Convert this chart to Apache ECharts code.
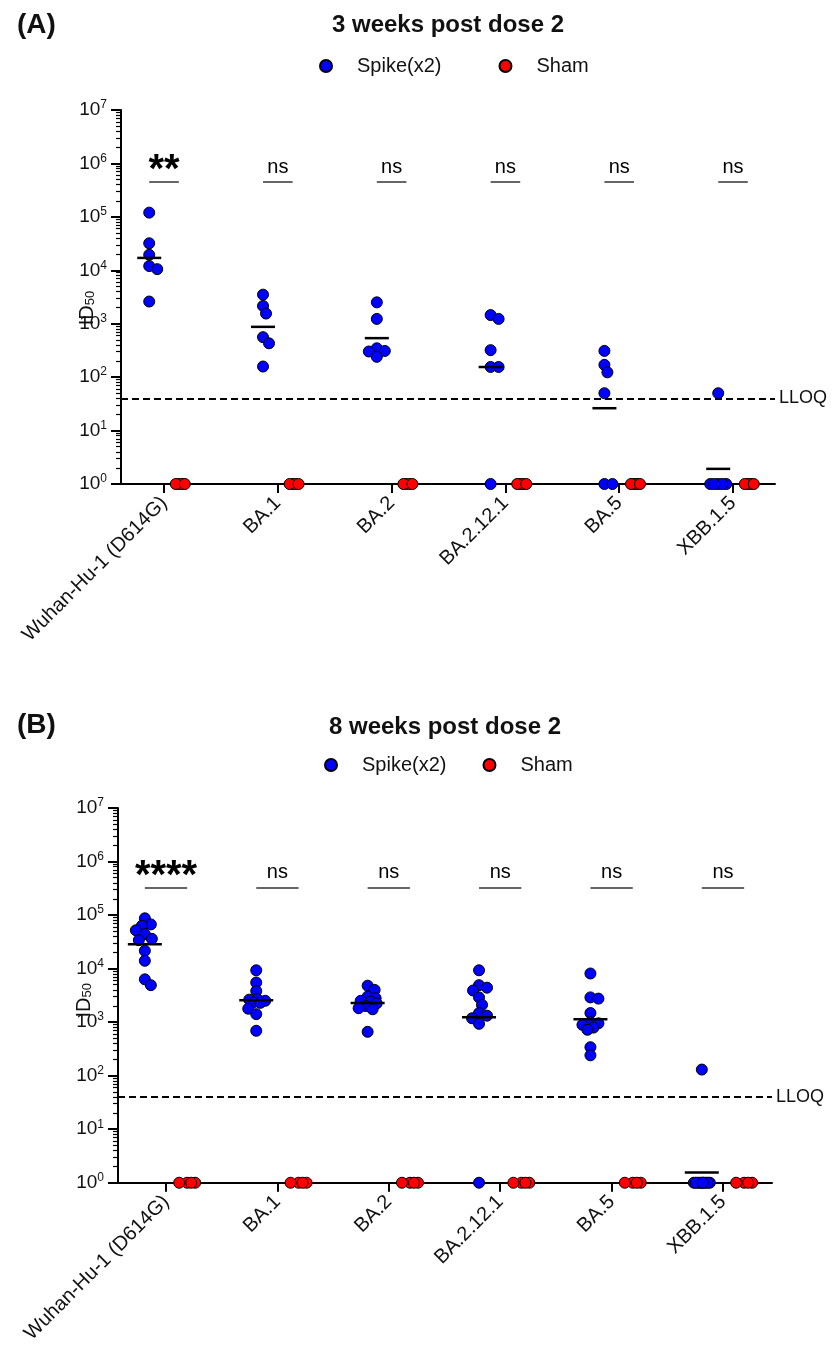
<!DOCTYPE html>
<html lang="en">
<head>
<meta charset="UTF-8">
<title>ID50 by variant</title>
<style>
  html, body { margin: 0; background: #fff; }
  #chart { width: 835px; height: 1346px; }
</style>
</head>
<body>
<div id="chart"></div>
<script src="https://cdn.jsdelivr.net/npm/echarts@6/dist/echarts.min.js"></script>
<script>
// ---- data ----
const categories = ['Wuhan-Hu-1 (D614G)', 'BA.1', 'BA.2', 'BA.2.12.1', 'BA.5', 'XBB.1.5'];
const sigA = ['**', 'ns', 'ns', 'ns', 'ns', 'ns'];
const sigB = ['****', 'ns', 'ns', 'ns', 'ns', 'ns'];
const lloq = 40;

// 3 weeks post dose 2
const spikeA = [
  [120000, 32000, 19500, 12000, 10500, 2600],
  [3500, 2150, 1550, 560, 430, 158],
  [2510, 1230, 347, 309, 302, 240],
  [1450, 1230, 320, 155, 155, 1],
  [310, 170, 123, 50, 1, 1],
  [50, 1, 1, 1, 1, 1]
];
const shamA = [
  [1, 1, 1, 1], [1, 1, 1, 1], [1, 1, 1, 1],
  [1, 1, 1, 1], [1, 1, 1, 1], [1, 1, 1, 1]
];

// 8 weeks post dose 2
const spikeB = [
  [87000, 67000, 63000, 52000, 44000, 36000, 34000, 21500, 14000, 6300, 4900],
  [9300, 5500, 3800, 2700, 2630, 2510, 2340, 2290, 1780, 1410, 690],
  [4800, 4000, 3000, 2800, 2500, 2400, 2240, 2000, 1820, 1740, 660],
  [9300, 4900, 4400, 3900, 2900, 2100, 1480, 1320, 1180, 930, 1],
  [8100, 2900, 2750, 1480, 1000, 950, 890, 790, 720, 340, 240],
  [130, 1, 1, 1, 1, 1, 1, 1, 1, 1, 1]
];
const shamB = [
  [1, 1, 1, 1], [1, 1, 1, 1], [1, 1, 1, 1],
  [1, 1, 1, 1], [1, 1, 1, 1], [1, 1, 1, 1]
];

// axis ticks
const majorTicks = [1, 10, 100, 1e3, 1e4, 1e5, 1e6, 1e7];
const minorTicks = [];
for (let n = 0; n < 7; n++) for (let k = 2; k <= 9; k++) minorTicks.push(k * Math.pow(10, n));

// ---- layout ----
const FONT = 'Liberation Sans, Arial, sans-serif';
const BLUE = '#0000ff';
const RED = '#ff0000';
const pxPerDecade = 53.5;

const panels = [
  { tag: '(A)', title: '3 weeks post dose 2', spike: spikeA, sham: shamA, sig: sigA, sigAt: 4.5e5,
    left: 121, top: 110, right: 60, height: 374, xMin: -0.378, xMax: 5.369, pxX: 113.8,
    off: 0.13, barW: 24, minD: 8, maxHalf: 8, shamMinD: 3, titleTop: 13, tagTop: 11,
    legendTop: 56, legendLeft: 319, legendGap: 57, namePad: 22 },
  { tag: '(B)', title: '8 weeks post dose 2', spike: spikeB, sham: shamB, sig: sigB, sigAt: 3.3e5,
    left: 118, top: 808, right: 63, height: 375, xMin: -0.431, xMax: 5.44, pxX: 111.4,
    off: 0.19, barW: 34, minD: 8, maxHalf: 9, shamMinD: 8, titleTop: 715, tagTop: 711,
    legendTop: 755, legendLeft: 324, legendGap: 36, namePad: 10 }
];

// simple beeswarm: spread points sideways when they collide (in pixels)
function swarm(vals, pxX, minD, maxHalf) {
  const pts = [];
  const res = [];
  vals.slice().sort((a, b) => b - a).forEach(v => {
    const y = Math.log10(v) * pxPerDecade;
    let best = 0, bestC = -1;
    for (let k = 0; k <= 2 * maxHalf; k++) {
      const dx = k % 2 ? Math.ceil(k / 2) : -k / 2;
      let c = Infinity;
      pts.forEach(p => { c = Math.min(c, Math.hypot(p[0] - dx, p[1] - y)); });
      if (c >= minD) { best = dx; break; }
      if (c > bestC) { bestC = c; best = dx; }
    }
    pts.push([best, y]);
    res.push([best / pxX, v]);
  });
  return res;
}

function geoMean(vals) {
  return Math.pow(10, vals.reduce((s, v) => s + Math.log10(v), 0) / vals.length);
}

const supLabel = v => '{b|10}{s|' + Math.round(Math.log10(v)) + '}';

const option = {
  animation: false,
  backgroundColor: '#fff',
  textStyle: { fontFamily: FONT },
  title: [], legend: [], grid: [], xAxis: [], yAxis: [], series: []
};

panels.forEach((p, g) => {
  option.title.push(
    { text: p.tag, left: 17, top: p.tagTop, padding: 0,
      textStyle: { fontSize: 28, fontWeight: 'bold', color: '#111', fontFamily: FONT } },
    { text: p.title, left: p.left + (835 - p.left - p.right) / 2, top: p.titleTop, padding: 0, textAlign: 'center',
      textStyle: { fontSize: 24, fontWeight: 'bold', color: '#111', fontFamily: FONT } }
  );
  option.legend.push({
    data: ['Spike(x2)', 'Sham'], left: p.legendLeft, top: p.legendTop, padding: 0,
    icon: 'circle', itemWidth: 52, itemHeight: 12, itemGap: p.legendGap,
    textStyle: { fontSize: 20, color: '#111', fontFamily: FONT }
  });
  option.grid.push({ left: p.left, top: p.top, right: p.right, height: p.height, containLabel: false });

  option.xAxis.push({
    type: 'value', gridIndex: g, min: p.xMin, max: p.xMax,
    splitLine: { show: false },
    axisLine: { onZero: false, lineStyle: { color: '#000', width: 2 } },
    axisTick: { customValues: [0, 1, 2, 3, 4, 5], length: 9, lineStyle: { color: '#000', width: 2 } },
    axisLabel: {
      customValues: [0, 1, 2, 3, 4, 5], rotate: 45, margin: 16,
      fontSize: 20, color: '#111', fontFamily: FONT,
      formatter: v => categories[Math.round(v)]
    }
  });

  option.yAxis.push({
    type: 'log', logBase: 10, gridIndex: g, position: 'left', min: 1, max: 1e7,
    name: 'ID{s|50}', nameLocation: 'middle', nameGap: 24, nameRotate: 90, nameMoveOverlap: false,
    nameTextStyle: { fontSize: 20, color: '#111', fontFamily: FONT, padding: [0, p.namePad, 0, 0],
      rich: { s: { fontSize: 13, verticalAlign: 'bottom', fontFamily: FONT, color: '#111' } } },
    splitLine: { show: false },
    axisLine: { onZero: false, lineStyle: { color: '#000', width: 2 } },
    axisTick: { customValues: majorTicks, length: 10, lineStyle: { color: '#000', width: 2 } },
    axisLabel: {
      customValues: majorTicks, margin: 14, formatter: supLabel,
      rich: {
        b: { fontSize: 19, color: '#111', fontFamily: FONT, lineHeight: 22 },
        s: { fontSize: 12, color: '#111', fontFamily: FONT, verticalAlign: 'top', lineHeight: 22, padding: [0, 0, 8, 0] }
      }
    }
  }, {
    type: 'log', logBase: 10, gridIndex: g, position: 'left', offset: 0, min: 1, max: 1e7,
    splitLine: { show: false },
    axisLine: { show: false, onZero: false },
    axisTick: { customValues: minorTicks, length: 5, lineStyle: { color: '#000', width: 1.2 } },
    axisLabel: { show: false }
  });

  const yi = g * 2;
  const pointStyle = color => ({ color: color, borderColor: '#000', borderWidth: 1, opacity: 1 });

  // spike points
  const spikeData = [];
  p.spike.forEach((vals, i) => {
    swarm(vals, p.pxX, p.minD, p.maxHalf).forEach(d => spikeData.push([i - p.off + d[0], d[1]]));
  });
  option.series.push({
    name: 'Spike(x2)', type: 'scatter', xAxisIndex: g, yAxisIndex: yi, clip: false,
    symbolSize: 11, itemStyle: pointStyle(BLUE), data: spikeData, z: 3,
    markLine: {
      silent: true, symbol: ['none', 'none'],
      lineStyle: { type: [7, 4], color: '#000', width: 2 },
      label: { show: true, position: 'end', formatter: 'LLOQ', fontSize: 18, color: '#111', fontFamily: FONT, distance: 4 },
      data: [{ yAxis: lloq }]
    }
  });

  // sham points
  const shamData = [];
  p.sham.forEach((vals, i) => {
    swarm(vals, p.pxX, p.shamMinD, p.maxHalf).forEach(d => shamData.push([i + p.off + d[0], d[1]]));
  });
  option.series.push({
    name: 'Sham', type: 'scatter', xAxisIndex: g, yAxisIndex: yi, clip: false,
    symbolSize: 11, itemStyle: pointStyle(RED), data: shamData, z: 3
  });

  // geometric mean bars
  option.series.push({
    name: 'mean', type: 'scatter', xAxisIndex: g, yAxisIndex: yi, clip: false, silent: true,
    symbol: 'rect', symbolSize: [p.barW, 2.5], itemStyle: { color: '#000', opacity: 1 }, z: 5,
    data: p.spike.map((vals, i) => [i - p.off, geoMean(vals)])
  });

  // significance labels and bars
  option.series.push({
    name: 'sig', type: 'scatter', xAxisIndex: g, yAxisIndex: yi, clip: false, silent: true,
    symbolSize: 1, itemStyle: { color: 'rgba(0,0,0,0)', opacity: 1 },
    data: p.sig.map((s, i) => [i, p.sigAt]),
    label: {
      show: true, position: 'top', distance: 4, color: '#000', opacity: 1,
      formatter: prm => p.sig[prm.dataIndex].indexOf('*') >= 0 ? '{a|' + p.sig[prm.dataIndex] + '}' : '{n|ns}',
      rich: {
        a: { fontSize: 40, fontWeight: 'bold', color: '#000', fontFamily: FONT, padding: [0, 0, -14, 0] },
        n: { fontSize: 20, color: '#000', fontFamily: FONT }
      }
    },
    markLine: {
      silent: true, symbol: ['none', 'none'], label: { show: false },
      lineStyle: { type: 'solid', color: '#333', width: 1.5 },
      data: p.sig.map((s, i) => [{ coord: [i - p.off, p.sigAt] }, { coord: [i + p.off, p.sigAt] }])
    }
  });
});

const myChart = echarts.init(document.getElementById('chart'));
myChart.setOption(option);
</script>
</body>
</html>
